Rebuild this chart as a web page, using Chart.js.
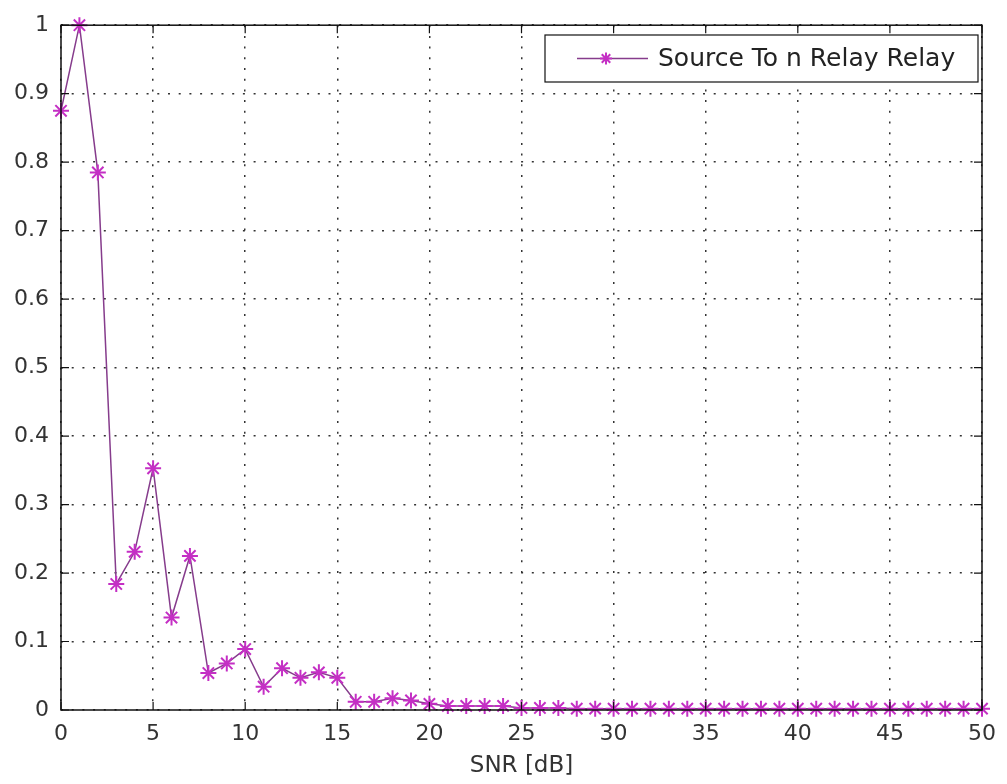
<!DOCTYPE html>
<html lang="en">
<head>
    <meta charset="UTF-8">
    <title>SNR plot</title>
    <script src="https://cdn.jsdelivr.net/npm/chart.js"></script>
    <style>
        html, body { margin: 0; padding: 0; background: #fff; }
    </style>
</head>
<body>
    <canvas id="snrChart" width="1007" height="784"></canvas>

    <script>
        // values
        const snrDb = [0,1,2,3,4,5,6,7,8,9,10,11,12,13,14,15,16,17,18,19,20,
                       21,22,23,24,25,26,27,28,29,30,31,32,33,34,35,36,37,38,39,40,
                       41,42,43,44,45,46,47,48,49,50];
        const relayValues = [0.875, 1.0, 0.785, 0.184, 0.231, 0.353, 0.135, 0.225, 0.054, 0.068,
                             0.089, 0.034, 0.061, 0.047, 0.055, 0.047, 0.012, 0.012, 0.017, 0.014,
                             0.009, 0.006, 0.006, 0.006, 0.006, 0.003, 0.003, 0.003, 0.002, 0.002,
                             0.002, 0.002, 0.002, 0.002, 0.002, 0.002, 0.002, 0.002, 0.002, 0.002,
                             0.002, 0.002, 0.002, 0.002, 0.002, 0.002, 0.002, 0.002, 0.002, 0.002,
                             0.002];
        const seriesLabel = 'Source To n Relay Relay';
        const xTicks = [0, 5, 10, 15, 20, 25, 30, 35, 40, 45, 50];
        const yTicks = [0, 0.1, 0.2, 0.3, 0.4, 0.5, 0.6, 0.7, 0.8, 0.9, 1];

        const lineColor = '#863c8c';
        const markColor = '#c42fc4';
        const fontFamily = '"DejaVu Sans", Verdana, sans-serif';

        // box round the axes, inward ticks and the legend, matlab style
        const frame = {
            id: 'frame',
            afterDraw(chart) {
                const { ctx, chartArea: a, scales } = chart;
                ctx.save();
                ctx.strokeStyle = '#111';
                ctx.lineWidth = 1.5;
                ctx.strokeRect(a.left, a.top, a.right - a.left, a.bottom - a.top);

                ctx.lineWidth = 1.2;
                ctx.beginPath();
                xTicks.forEach(v => {
                    const px = scales.x.getPixelForValue(v);
                    ctx.moveTo(px, a.bottom); ctx.lineTo(px, a.bottom - 8);
                    ctx.moveTo(px, a.top); ctx.lineTo(px, a.top + 8);
                });
                yTicks.forEach(v => {
                    const py = scales.y.getPixelForValue(v);
                    ctx.moveTo(a.left, py); ctx.lineTo(a.left + 8, py);
                    ctx.moveTo(a.right, py); ctx.lineTo(a.right - 8, py);
                });
                ctx.stroke();

                // legend
                const bx = 545, by = 35, bw = 433, bh = 47;
                ctx.fillStyle = '#fff';
                ctx.fillRect(bx, by, bw, bh);
                ctx.strokeStyle = '#111';
                ctx.lineWidth = 1.2;
                ctx.strokeRect(bx, by, bw, bh);
                const my = by + bh / 2;
                ctx.strokeStyle = lineColor;
                ctx.lineWidth = 1.5;
                ctx.beginPath();
                ctx.moveTo(bx + 32, my); ctx.lineTo(bx + 103, my);
                ctx.stroke();
                ctx.strokeStyle = markColor;
                ctx.fillStyle = markColor;
                ctx.lineWidth = 2;
                Chart.helpers.drawPoint(ctx, { pointStyle: 'star', radius: 6, borderWidth: 2 }, bx + 61, my);
                ctx.fillStyle = '#222';
                ctx.font = '25px ' + fontFamily;
                ctx.textBaseline = 'middle';
                ctx.textAlign = 'left';
                ctx.fillText(seriesLabel, bx + 113, my + 1);
                ctx.restore();
            }
        };

        const ctx = document.getElementById('snrChart').getContext('2d');
        new Chart(ctx, {
            type: 'line',
            data: {
                datasets: [{
                    label: seriesLabel,
                    data: snrDb.map((x, i) => ({ x: x, y: relayValues[i] })),
                    borderColor: lineColor,
                    borderWidth: 1.5,
                    pointStyle: 'star',
                    pointRadius: 8,
                    pointBorderColor: markColor,
                    pointBorderWidth: 2,
                    pointBackgroundColor: markColor,
                    tension: 0,
                    fill: false,
                    clip: false
                }]
            },
            options: {
                responsive: false,
                animation: false,
                devicePixelRatio: 1,
                layout: { padding: { top: 21, right: 14, left: 0, bottom: 0 } },
                plugins: {
                    legend: { display: false },
                    tooltip: { enabled: false }
                },
                scales: {
                    x: {
                        type: 'linear',
                        min: 0,
                        max: 50,
                        afterFit: s => { s.height = 74; },
                        afterBuildTicks: s => { s.ticks = xTicks.map(v => ({ value: v })); },
                        grid: {
                            color: '#333',
                            lineWidth: 1.5,
                            drawTicks: false
                        },
                        border: { display: false, dash: [2, 8.7] },
                        ticks: {
                            color: '#333',
                            padding: 11,
                            maxRotation: 0,
                            font: { family: fontFamily, size: 22 }
                        },
                        title: {
                            display: true,
                            text: 'SNR [dB]',
                            color: '#333',
                            padding: { top: 0, bottom: 4 },
                            font: { family: fontFamily, size: 23 }
                        }
                    },
                    y: {
                        min: 0,
                        max: 1,
                        afterFit: s => { s.width = 61; },
                        afterBuildTicks: s => { s.ticks = yTicks.map(v => ({ value: v })); },
                        grid: {
                            color: '#333',
                            lineWidth: 1.5,
                            drawTicks: false
                        },
                        border: { display: false, dash: [2, 8.7] },
                        ticks: {
                            color: '#333',
                            padding: 12,
                            callback: v => String(Math.round(v * 10) / 10),
                            font: { family: fontFamily, size: 22 }
                        }
                    }
                }
            },
            plugins: [frame]
        });
    </script>
</body>
</html>
